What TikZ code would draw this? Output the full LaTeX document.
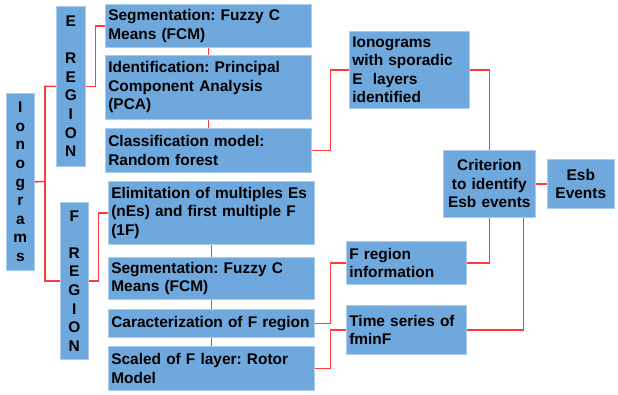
\documentclass[tikz,border=0pt]{standalone}
\usepackage{fontspec}
\setmainfont{Liberation Sans}
\usetikzlibrary{calc}
\frenchspacing
\hyphenpenalty=10000
\exhyphenpenalty=10000
\definecolor{boxblue}{RGB}{111,168,220}
\definecolor{boxline}{RGB}{170,205,238}
\definecolor{linkred}{RGB}{255,60,60}
\tikzset{
  box/.style={fill=boxblue, draw=boxline, line width=0.6pt,
    font=\bfseries\fontsize{15.45}{18.5}\selectfont,
    inner xsep=3pt, inner ysep=1pt, anchor=north west, align=left},
  cbox/.style={box, align=center},
  vbox/.style={fill=boxblue, draw=boxline, line width=0.6pt,
    font=\bfseries\fontsize{15.45}{18.6}\selectfont,
    inner sep=0pt, anchor=north west, align=center},
  link/.style={draw=linkred, line width=1.6pt}
}
\begin{document}
\begin{tikzpicture}[x=1pt,y=-1pt]
\useasboundingbox (0,0) rectangle (618,394);
% vertical label boxes
\node[vbox, minimum width=28pt, minimum height=177pt] (iono) at (6,93)
  {I\\o\\n\\o\\g\\r\\a\\m\\s};
\node[vbox, minimum width=29pt, minimum height=160pt] (ereg) at (56,6)
  {E\\\mbox{}\\R\\E\\G\\I\\O\\N};
\node[vbox, minimum width=28pt, minimum height=157pt] (freg) at (60,202)
  {F\\\mbox{}\\R\\E\\G\\I\\O\\N};
% E region column
\node[box, text width=200pt, minimum height=43pt] (sege) at (105,4)
  {Segmentation: Fuzzy C\\Means (FCM)};
\node[box, text width=200pt, minimum height=64pt] (ident) at (105,55)
  {Identification: Principal\\Component Analysis\\(PCA)};
\node[box, text width=200pt, minimum height=44pt] (classif) at (105,128)
  {Classification model:\\Random forest};
% F region column
\node[box, text width=200pt, minimum height=63pt] (elim) at (108,181)
  {Elimitation of multiples Es\\(nEs) and first multiple F\\(1F)};
\node[box, text width=200pt, minimum height=42pt] (segf) at (108,257)
  {Segmentation: Fuzzy C\\Means (FCM)};
\node[box, text width=200pt, minimum height=28pt] (carac) at (108,309)
  {Caracterization of F region};
\node[box, text width=200pt, minimum height=44pt] (scaled) at (108,346)
  {Scaled of F layer: Rotor\\Model};
% right side
\node[box, text width=114pt, minimum height=77pt] (spor) at (349,31)
  {Ionograms\\with sporadic\\E\ \ layers\\identified};
\node[box, text width=114pt, minimum height=43pt] (finfo) at (346,241)
  {F region\\information};
\node[box, text width=114pt, minimum height=49pt] (tser) at (346,305)
  {Time series of\\fminF};
\node[cbox, text width=86pt, minimum height=67pt] (crit) at (443,150)
  {Criterion\\to identify\\Esb events};
\node[cbox, text width=61pt, minimum height=49pt] (esb) at (547,159)
  {Esb\\Events};
% connectors
\coordinate (ij) at (45,181.5);
\draw[link] (iono.east) -- (ij) |- (ereg.west);
\draw[link] (ij) |- (freg.west);
\draw[link] (ereg.east) -- ++(10,0) |- (sege.west);
\draw[link] (freg.east) -- ++(10,0) |- (elim.west);
\draw[link] (sege.south) -- (ident.north);
\draw[link] (ident.south) -- (classif.north);
\draw[link] (elim.south) -- (segf.north);
\draw[link] (segf.south) -- (carac.north);
\draw[link] (carac.south) -- (scaled.north);
\draw[link] (classif.east) -- ++(19,0) |- (spor.west);
\draw[link] (spor.east) -| (crit.north);
\draw[link] (crit.east) -- (esb.west);
\draw[link] (carac.east) -- ++(16,0) |- (finfo.west);
\draw[link] (finfo.east) -| (crit.south);
\draw[link] (scaled.east) -- ++(16,0) |- (tser.west);
\draw[link] (tser.east) -| ([xshift=34pt]crit.south);
\end{tikzpicture}
\end{document}
